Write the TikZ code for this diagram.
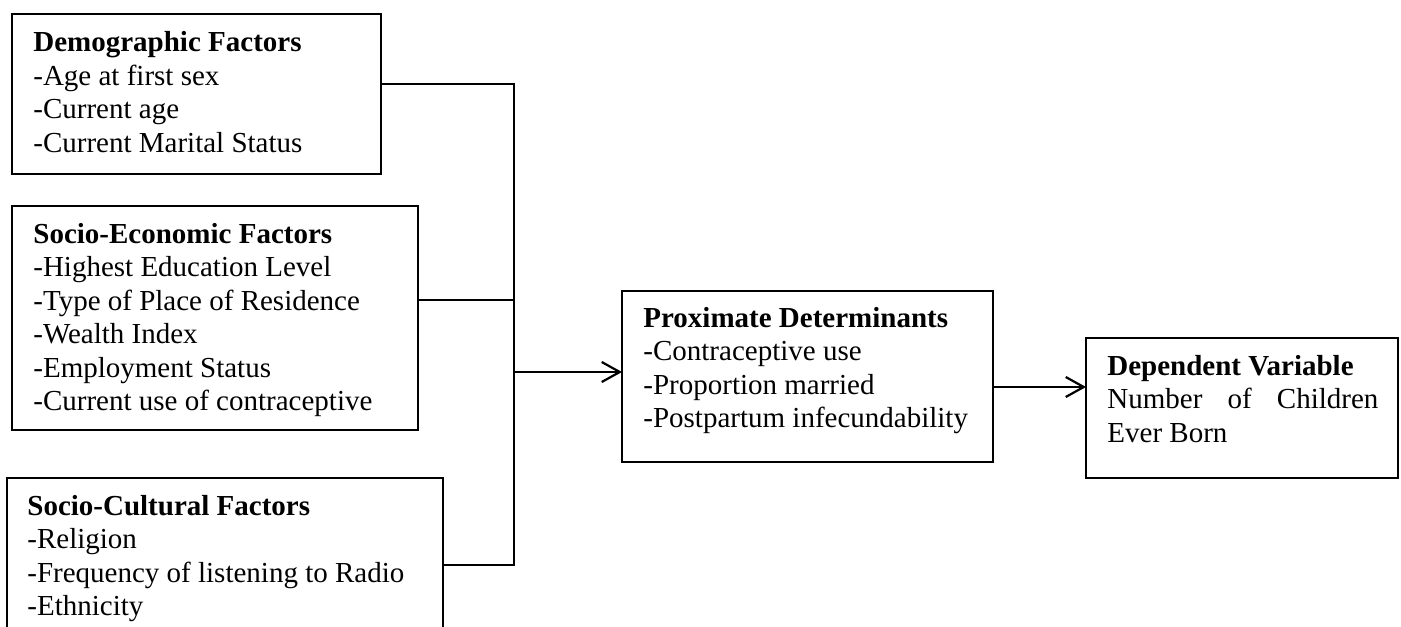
\documentclass[tikz,border=0pt]{standalone}
\usepackage{fontspec}
\setmainfont{Liberation Serif}
\usetikzlibrary{arrows.meta}
\tikzset{
  box/.style={draw, line width=1.1pt, inner sep=0pt, outer sep=0pt, anchor=north west},
  txt/.style={inner sep=0pt, anchor=base west, font=\fontsize{14.5}{16.75}\selectfont},
  conn/.style={line width=1.1pt},
  arr/.style={line width=1.1pt, -{Straight Barb[length=9pt,width=10pt,line width=1.1pt]}}
}
\begin{document}
\begin{tikzpicture}[x=0.5pt,y=-0.5pt]
\useasboundingbox (0,0) rectangle (1401,626);
\clip (0,0) rectangle (1401,626);
\fill[white] (0,0) rectangle (1401,626);
% boxes
\node[box, minimum width=184.5pt, minimum height=80pt] (demo) at (12,14) {};
\node[box, minimum width=203pt, minimum height=112pt] (soceco) at (12,206) {};
\node[box, minimum width=218pt, minimum height=90pt] (soccul) at (7,478) {};
\node[box, minimum width=185.5pt, minimum height=85.5pt] (prox) at (622,291) {};
\node[box, minimum width=156pt, minimum height=70pt] (dep) at (1086,338) {};
% texts
\node[txt] (tdemo) at (33,52) {\parbox[t]{180pt}{\textbf{Demographic Factors}\\-Age at first sex\\-Current age\\-Current Marital Status}};
\node[txt] (tsoceco) at (33,243) {\parbox[t]{190pt}{\textbf{Socio-Economic Factors}\\-Highest Education Level\\-Type of Place of Residence\\-Wealth Index\\-Employment Status\\-Current use of contraceptive}};
\node[txt] (tsoccul) at (27,515) {\parbox[t]{210pt}{\textbf{Socio-Cultural Factors}\\-Religion\\-Frequency of listening to Radio\\-Ethnicity}};
\node[txt] (tprox) at (643,327) {\parbox[t]{180pt}{\textbf{Proximate Determinants}\\-Contraceptive use\\-Proportion married\\-Postpartum infecundability}};
\node[txt] (tdep) at (1107,375) {\parbox[t]{135.5pt}{\textbf{Dependent Variable}\\\makebox[\linewidth][s]{Number of Children}\\Ever Born}};
% bus coordinates
\coordinate (bt) at (514,84);
\coordinate (bm) at (514,300);
\coordinate (bb) at (514,565);
\coordinate (ba) at (514,372);
\coordinate (r2) at (1040,387);
% connectors
\draw[conn] (demo.east |- bt) -- (bt) -- (bb) -- (soccul.east |- bb);
\draw[conn] (soceco.east |- bm) -- (bm);
\draw[arr] (ba) -- (prox.west |- ba);
\draw[arr] (prox.east |- r2) -- (dep.west |- r2);
\end{tikzpicture}
\end{document}
